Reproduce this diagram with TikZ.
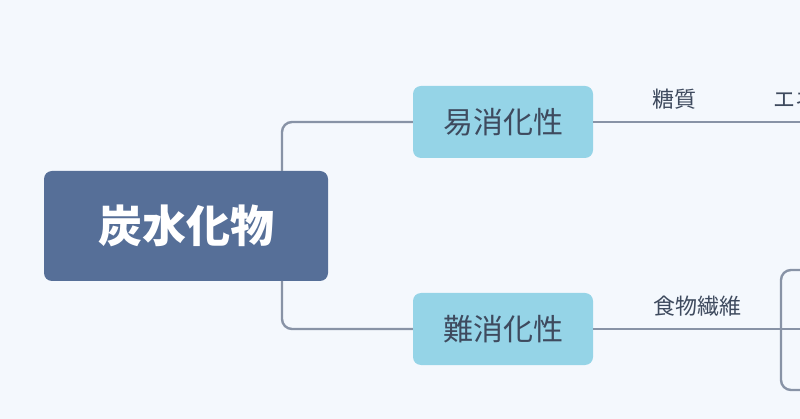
\documentclass[tikz,border=0pt]{standalone}
\usepackage{fontspec}
\setmainfont{Noto Sans CJK JP}
\begin{document}
\begin{tikzpicture}[x=1pt,y=-1pt,
  link/.style={draw=lineC,line width=2.4pt,rounded corners=10pt},
  rootbox/.style={fill=rootC,rounded corners=8pt,minimum width=284pt,minimum height=110pt,text=white,font=\fontsize{44}{48}\selectfont\bfseries},
  subbox/.style={fill=subC,rounded corners=8pt,minimum width=180pt,minimum height=72pt,text=txtC,font=\fontsize{30}{34}\selectfont},
  lab/.style={text=txtC,font=\fontsize{22}{26}\selectfont,anchor=base}]
\definecolor{bgC}{HTML}{F4F8FD}
\definecolor{rootC}{HTML}{566F98}
\definecolor{subC}{HTML}{95D4E7}
\definecolor{lineC}{HTML}{8893A6}
\definecolor{txtC}{HTML}{3E4A5E}
\fill[bgC] (0,0) rectangle (800,419);
\useasboundingbox (0,0) rectangle (800,419);
\clip (0,0) rectangle (800,419);
\node[rootbox] (root) at (186,226) {炭水化物};
\node[subbox] (a) at (503,122) {易消化性};
\node[subbox] (b) at (503,329) {難消化性};
\coordinate (ae) at (800,122);
\coordinate (be) at (800,329);
\coordinate (bt) at (805,270);
\coordinate (bb) at (805,390);
\draw[link] (282,171) |- (a.west);
\draw[link] (282,281) |- (b.west);
\draw[link] (a.east) -- (ae);
\draw[link] (b.east) -- (be);
\draw[link] (bt) -| (781,330) |- (bb);
\node[lab] (l1) at (674,108) {糖質};
\node[lab,anchor=base west] (l2) at (770,108) {エネ};
\node[lab] (l3) at (697,315) {食物繊維};
\end{tikzpicture}
\end{document}
